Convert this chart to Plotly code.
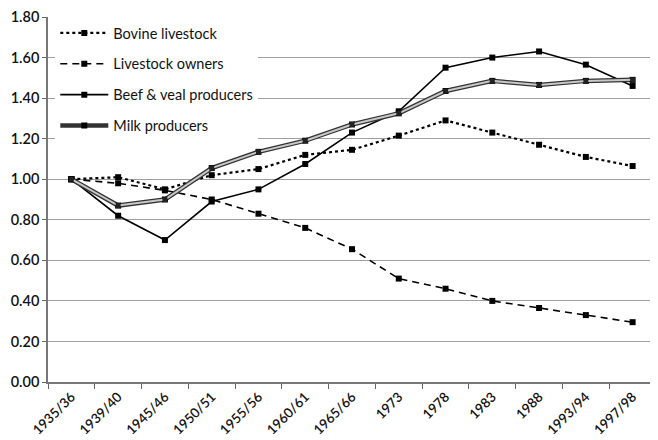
import plotly.graph_objects as go

periods = ["1935/36", "1939/40", "1945/46", "1950/51", "1955/56", "1960/61", "1965/66",
           "1973", "1978", "1983", "1988", "1993/94", "1997/98"]
bovine = [1.00, 1.01, 0.95, 1.02, 1.05, 1.12, 1.145, 1.215, 1.29, 1.23, 1.17, 1.11, 1.065]
owners = [1.00, 0.98, 0.945, 0.90, 0.83, 0.76, 0.655, 0.51, 0.46, 0.40, 0.365, 0.33, 0.295]
beef = [1.00, 0.82, 0.70, 0.89, 0.95, 1.075, 1.23, 1.335, 1.55, 1.60, 1.63, 1.565, 1.46]
milk = [1.00, 0.87, 0.90, 1.055, 1.135, 1.19, 1.27, 1.325, 1.435, 1.485, 1.465, 1.485, 1.49]

fig = go.Figure()
mk = dict(symbol="square", size=6, color="black")
fig.add_trace(go.Scatter(x=periods, y=bovine, name="Bovine livestock", mode="lines+markers",
                         line=dict(color="black", width=2.2, dash="dot"), marker=mk, legendgroup="a"))
fig.add_trace(go.Scatter(x=periods, y=owners, name="Livestock owners", mode="lines+markers",
                         line=dict(color="black", width=1.6, dash="7px,5px"), marker=mk, legendgroup="b"))
fig.add_trace(go.Scatter(x=periods, y=beef, name="Beef & veal producers", mode="lines+markers",
                         line=dict(color="black", width=1.6), marker=mk, legendgroup="c"))
fig.add_trace(go.Scatter(x=periods, y=milk, name="Milk producers", mode="lines+markers",
                         line=dict(color="#333333", width=4.5), marker=mk, legendgroup="d"))
fig.add_trace(go.Scatter(x=periods, y=milk, name="Milk producers", mode="lines",
                         line=dict(color="#c8c8c8", width=2), showlegend=False, legendgroup="d",
                         hoverinfo="skip"))
fig.add_trace(go.Scatter(x=periods, y=milk, name="Milk producers", mode="markers",
                         marker=dict(symbol="square", size=5, color="#222222"), showlegend=False,
                         legendgroup="d", hoverinfo="skip"))

fig.update_layout(
    width=650, height=432,
    margin=dict(l=40, r=2, t=9, b=58),
    plot_bgcolor="white", paper_bgcolor="white",
    font=dict(family="Lato", size=14, color="#111111"),
    legend=dict(x=0.012, y=1.0, xanchor="left", yanchor="top", bgcolor="rgba(255,255,255,1)",
                font=dict(family="Lato", size=14.5, color="#111111"), tracegroupgap=9,
                traceorder="grouped", itemwidth=48),
    showlegend=True,
)
fig.update_xaxes(
    type="category", range=[-0.5, 12.5], tickangle=-45, tickson="boundaries",
    ticks="outside", ticklen=5, tickcolor="#666666", showgrid=False,
    showline=True, linecolor="#777777", linewidth=1.5, automargin=False,
    tickfont=dict(size=13.5, color="#111111", weight=600),
)
fig.update_yaxes(
    range=[0, 1.8], dtick=0.2, tickformat=".2f", ticks="outside", ticklen=4, tickcolor="#666666",
    showgrid=True, gridcolor="#a0a0a0", gridwidth=1.3, automargin=False,
    showline=True, linecolor="#777777", linewidth=1.5, zeroline=False,
    tickfont=dict(size=14.5, color="#111111", weight=600),
)
fig.write_html("out.html")
